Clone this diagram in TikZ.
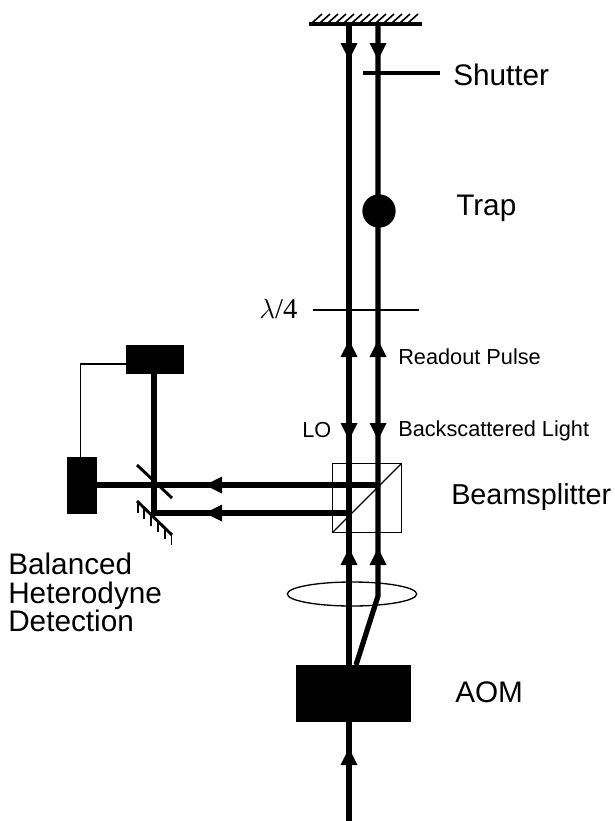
\documentclass[tikz,border=0pt]{standalone}
\usepackage{fontspec}
\setmainfont{Liberation Sans}
\newfontfamily\serifpart{Liberation Serif}
\usetikzlibrary{shapes.geometric,calc}
\begin{document}
\begin{tikzpicture}[x=0.75pt,y=-0.75pt,
  beam/.style={line width=3.9pt,black},
  bar/.style={line width=3pt,black},
  thin line/.style={line width=1pt,black},
  solid box/.style={fill=black,draw=none,inner sep=0pt},
  big label/.style={font=\fontsize{22.3}{26}\selectfont,anchor=west,inner sep=0pt},
  small label/.style={font=\fontsize{16.3}{19}\selectfont,anchor=west,inner sep=0pt}]
\useasboundingbox (0,0) rectangle (614,821);
\newcommand{\tipdown}[2]{\fill (#1-8.5,#2-17) -- (#1+8.5,#2-17) -- (#1,#2) -- cycle;}
\newcommand{\tipup}[2]{\fill (#1-8.5,#2+17) -- (#1+8.5,#2+17) -- (#1,#2) -- cycle;}
\newcommand{\tipleft}[2]{\fill (#1+17,#2-8.5) -- (#1+17,#2+8.5) -- (#1,#2) -- cycle;}
% coordinates
\coordinate (mL) at (349,24); \coordinate (mR) at (378,24);
\node[solid box,minimum height=42.75pt,minimum width=86.25pt] (aom) at (353.5,693.5) {};
\node[solid box,minimum width=43.5pt,minimum height=21.75pt] (dettop) at (155,359.5) {};
\node[solid box,minimum width=22.5pt,minimum height=42.75pt] (detleft) at (82,485.5) {};
\node[circle,fill=black,inner sep=0pt,minimum size=25pt] (trap) at (379,211) {};
\node[draw=black,line width=1pt,minimum size=51.5pt,inner sep=0pt] (bs) at (367,498) {};
\node[draw=black,line width=1pt,ellipse,minimum width=97pt,minimum height=18pt,inner sep=0pt] (lens) at (352,594) {};
\coordinate (hit1) at (378,485); \coordinate (hit2) at (349,513);
\coordinate (bsd) at (154,485); \coordinate (mirc) at (154,513);
\coordinate (kink) at (378,596); \coordinate (aomR) at (356,665);
\coordinate (aomL) at (349,665); \coordinate (in) at (349,821); \coordinate (aomB) at (349,722);
\coordinate (dtb) at (154,374);
\coordinate (wireA) at (126,364); \coordinate (wireB) at (80.5,457);
% mirror at top
\draw[line width=2.6pt] (309,24) -- (422,24);
\foreach \x in {312,320,...,412} \draw[line width=1.2pt] (\x,23) -- (\x+10,14);
% beams
\draw[beam] (mL) -- (aomL);
\draw[beam] (mR) -- (kink) -- (aomR);
\draw[beam] (aomB) -- (in);
\draw[beam] (hit1) -- (detleft.east |- hit1);
\draw[beam] (hit2) -- (mirc) -- (dtb);
% optics
\draw[thin line] (333,532) -- (401,464);
\draw[bar,line width=2.2pt] (137,465) -- (172,498);
\draw[bar,line width=2.2pt] (137,501) -- (172,535);
\foreach \t in {0.02,0.2,0.4,0.6,0.8,0.98} \draw[line width=1.2pt] ($(137,501)!\t!(172,535)$) -- ++(0,11);
\draw[bar] (363,73) -- (440,73);
\draw[line width=2pt] (313,310) -- (419,310);
\draw[thin line] (wireA) -| (wireB);
% arrowheads
\tipdown{349}{60} \tipdown{378}{60}
\tipup{349}{340} \tipup{378}{340}
\tipdown{349}{440} \tipdown{378}{440}
\tipleft{205}{485} \tipleft{205}{513}
\tipup{349}{548} \tipup{378}{548}
\tipup{349}{748}
% labels
\node[big label] (l1) at (453,74.5) {Shutter};
\node[big label] (l2) at (456,208) {Trap};
\node[small label] (l3) at (398,357) {Readout Pulse};
\node[small label] (l4) at (398,431) {Backscattered Light};
\node[small label] (l5) at (302,430) {LO};
\node[big label,font=\fontsize{21.6}{26}\selectfont] (l6) at (451,497) {Beamsplitter};
\node[big label] (l7) at (455,692) {AOM};
\node[font=\fontsize{21.5}{24}\selectfont,anchor=west,inner sep=0pt] (l8) at (259,309) {$\lambda$\serifpart/4};
\node[align=left,font=\fontsize{22.3}{21.4}\selectfont,anchor=north west,inner sep=0pt] (l9) at (8,553) {Balanced\\Heterodyne\\Detection};
\end{tikzpicture}
\end{document}
